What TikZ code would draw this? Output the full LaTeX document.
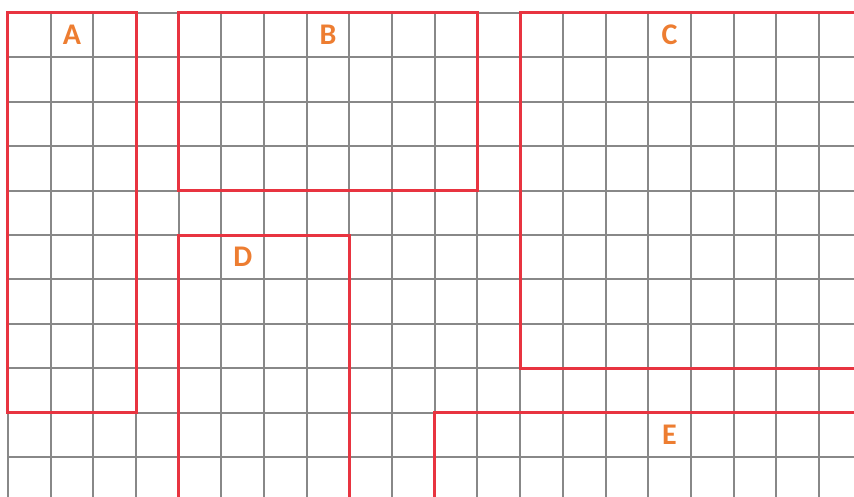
\documentclass[tikz,border=0pt]{standalone}
\usepackage{fontspec}
\setmainfont{Carlito}
\definecolor{boxred}{RGB}{232,52,64}
\definecolor{lblorange}{RGB}{237,125,49}
\definecolor{gridgray}{RGB}{136,136,136}
\tikzset{
  gridline/.style={gridgray, line width=2pt},
  area/.style={boxred, line width=3pt},
  arealabel/.style={text=lblorange, font=\fontsize{30}{30}\selectfont\bfseries}
}

\begin{document}
\begin{tikzpicture}[x=42.68pt, y=44.4pt]
  \useasboundingbox (-0.1874,0.2928) rectangle (19.822,-10.9009); % same frame as the picture
  \clip (-0.1874,0.2928) rectangle (19.822,-10.9009);
  % the grid
  \foreach \i in {0,...,19}
    \draw[gridline] (\i,0) -- (\i,-11);
  \foreach \j in {0,...,10}
    \draw[gridline] (0,-\j) -- (20,-\j);
  % the areas
  \draw[area] (0,0) rectangle (3,-9);
  \draw[area] (4,0) rectangle (11,-4);
  \draw[area] (12,0) rectangle (21,-8);
  \draw[area] (4,-5) rectangle (8,-12);
  \draw[area] (10,-9) rectangle (21,-12);
  % their names
  \node[arealabel] (labA) at (1.5,-0.5) {A};
  \node[arealabel] (labB) at (7.5,-0.5) {B};
  \node[arealabel] (labC) at (15.5,-0.5) {C};
  \node[arealabel] (labD) at (5.5,-5.5) {D};
  \node[arealabel] (labE) at (15.5,-9.5) {E};
\end{tikzpicture}
\end{document}
